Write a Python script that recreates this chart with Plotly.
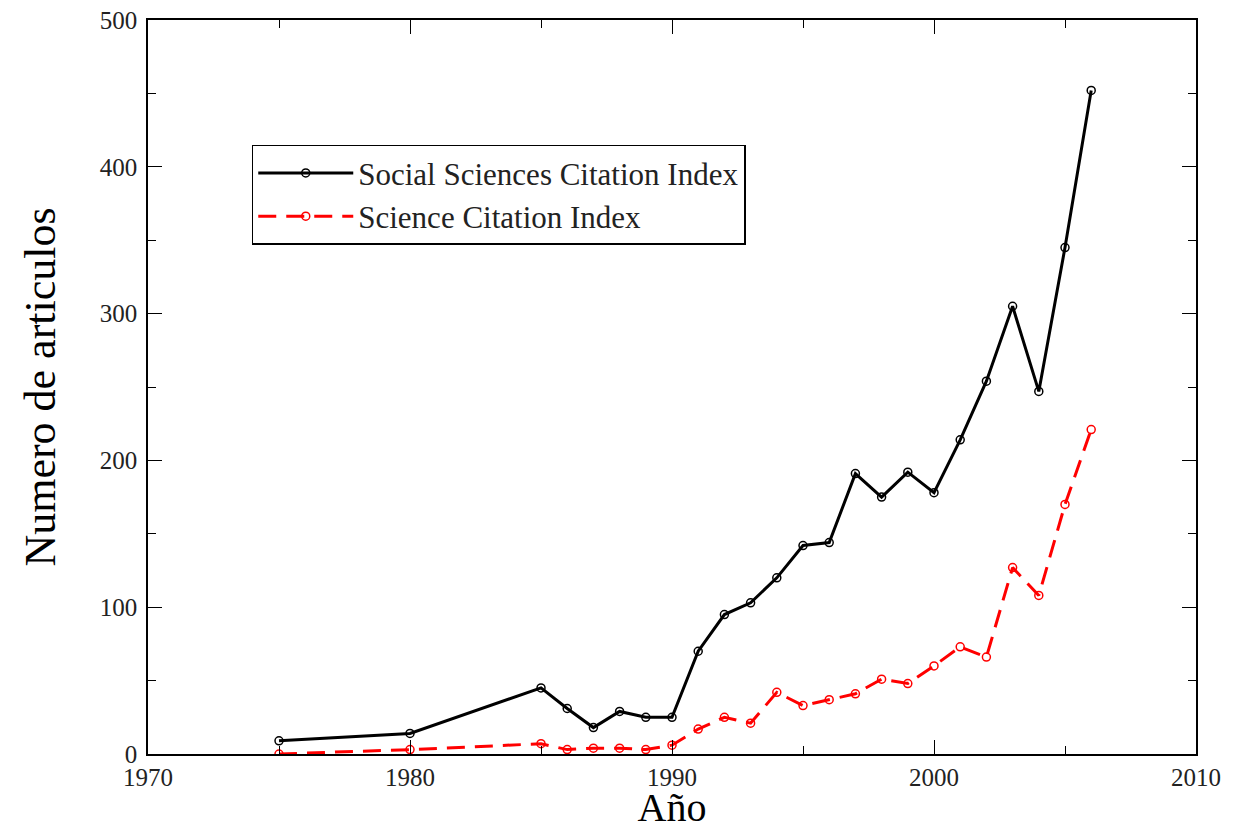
import plotly.graph_objects as go

years_ssci = [1975, 1980, 1985, 1986, 1987, 1988, 1989, 1990, 1991, 1992, 1993, 1994, 1995,
              1996, 1997, 1998, 1999, 2000, 2001, 2002, 2003, 2004, 2005, 2006]
ssci = [9, 14, 45, 31, 18, 29, 25, 25, 70, 95, 103, 120, 142,
        144, 191, 175, 192, 178, 214, 254, 305, 247, 345, 452]
years_sci = years_ssci
sci = [0, 3, 7, 3, 4, 4, 3, 6, 17, 25, 21, 42, 33,
       37, 41, 51, 48, 60, 73, 66, 127, 108, 170, 221]

FONT = "Liberation Serif, Times New Roman, serif"

fig = go.Figure()
fig.add_trace(go.Scatter(
    x=years_ssci, y=ssci, mode="lines+markers", name="Social Sciences Citation Index",
    line=dict(color="black", width=3),
    marker=dict(symbol="circle-open", size=8, color="black", line=dict(width=1.5)),
))
fig.add_trace(go.Scatter(
    x=years_sci, y=sci, mode="lines+markers", name="Science Citation Index",
    line=dict(color="#ff0000", width=3, dash="18px,10px"),
    marker=dict(symbol="circle-open", size=8, color="#ff0000", line=dict(width=1.5)),
))

axis_common = dict(
    showline=True, linecolor="black", linewidth=1.5, mirror="allticks",
    ticks="inside", tickcolor="black", tickwidth=1.2, ticklen=14,
    showgrid=False, zeroline=False, automargin=False,
    ticklabeloverflow="allow",
    tickfont=dict(family=FONT, size=25, color="#222222"),
)

fig.update_xaxes(
    range=[1970, 2010], dtick=10, tick0=1970,
    minor=dict(dtick=5, ticks="inside", ticklen=8, tickcolor="black", tickwidth=1.2, showgrid=False),
    title=dict(text="Año", font=dict(family=FONT, size=40, color="black"), standoff=9),
    ticklabelstandoff=0,
    **axis_common,
)
fig.update_yaxes(
    range=[0, 500], dtick=100, tick0=0,
    minor=dict(dtick=50, ticks="inside", ticklen=8, tickcolor="black", tickwidth=1.2, showgrid=False),
    title=dict(text="Numero de articulos", font=dict(family=FONT, size=44, color="black"), standoff=30),
    ticklabelstandoff=4,
    **axis_common,
)

fig.update_layout(
    width=1229, height=822,
    margin=dict(l=140, r=41, t=12, b=76),
    paper_bgcolor="white", plot_bgcolor="white",
    font=dict(family=FONT, color="black"),
    legend=dict(
        x=0.099, y=0.83, xanchor="left", yanchor="top",
        bgcolor="white", bordercolor="black", borderwidth=1.5,
        font=dict(family=FONT, size=31, color="#222222"),
        itemwidth=95,
    ),
    showlegend=True,
)

fig.write_html("out.html")
